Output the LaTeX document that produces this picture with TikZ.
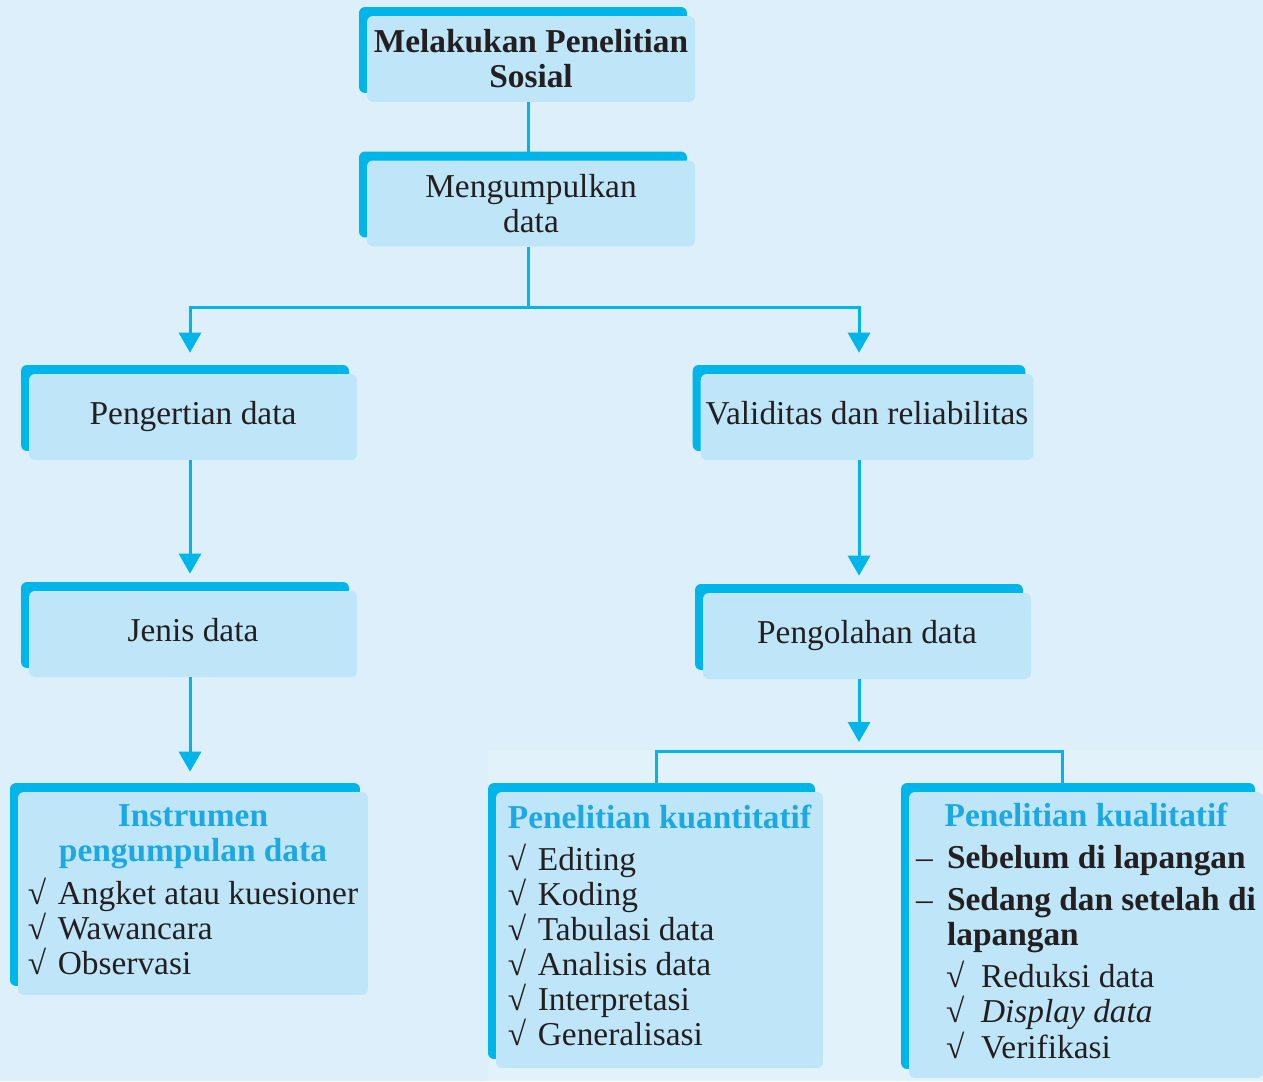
\documentclass[tikz,border=0pt]{standalone}
\usepackage{fontspec}
\setmainfont{Liberation Serif}
\usepackage{xcolor}
\usetikzlibrary{arrows.meta,shadows,positioning}

\definecolor{pagebg}{HTML}{DCEFFA}
\definecolor{grainbg}{HTML}{E2F2FB}
\definecolor{boxfill}{HTML}{BEE6F8}
\definecolor{tabcyan}{HTML}{00B5EA}
\definecolor{headcyan}{HTML}{1CA8E2}
\definecolor{inktext}{HTML}{231F20}

\newcommand{\ticked}{\makebox[0.6cm][l]{\smash{√}}}
\newcommand{\subticked}{\hspace{0.6cm}\makebox[0.7cm][l]{\smash{√}}}
\newcommand{\boxhead}[1]{\textcolor{headcyan}{\bfseries #1}}

\tikzset{
  box/.style={fill=boxfill, rounded corners=0.12cm, text=inktext,
    minimum width=6.56cm, minimum height=1.72cm, inner sep=0.1cm,
    align=center, font=\fontsize{19}{20}\selectfont,
    general shadow={fill=tabcyan, shadow xshift=-0.16cm, shadow yshift=0.18cm}},
  link/.style={draw=tabcyan, line width=0.06cm},
  arrow/.style={link, -{Triangle[width=0.44cm,length=0.4cm]}}
}

\begin{document}
\begin{tikzpicture}[x=0.02cm, y=-0.02cm]
        \fill [pagebg] (0,0) rectangle (1263,1081);
        \fill [grainbg] (488,750) rectangle (1263,1081);
        \useasboundingbox (0,0) rectangle (1263,1081);
        % upper chain
        \node [box, font=\fontsize{19}{20}\selectfont\bfseries] (research) at (531,59) {Melakukan Penelitian\\Sosial};
        \node [box] (collect) at (531,203.5) {Mengumpulkan\\data};
        \node [box] (meaning) at (193,417) {\strut Pengertian data};
        \node [box] (validity) at (867,417) {\strut Validitas dan reliabilitas};
        \node [box] (kinds) at (193,634) {\strut Jenis data};
        \node [box] (process) at (867,636) {\strut Pengolahan data};
        % lower boxes with lists
        \node [box, minimum width=7cm, minimum height=4.06cm] (tools) at (193,893.5) {%
          \begin{tabular}{@{}l@{}}
          \multicolumn{1}{@{}c@{}}{\boxhead{Instrumen}}\\
          \multicolumn{1}{@{}c@{}}{\boxhead{pengumpulan data}}\\[4pt]
          \ticked Angket atau kuesioner\\
          \ticked Wawancara\\
          \ticked Observasi
          \end{tabular}};
        \node [box, minimum width=6.54cm, minimum height=5.52cm] (quant) at (659.5,930) {%
          \begin{tabular}{@{}l@{}}
          \multicolumn{1}{@{}c@{}}{\boxhead{Penelitian kuantitatif}}\\[4pt]
          \ticked Editing\\
          \ticked Koding\\
          \ticked Tabulasi data\\
          \ticked Analisis data\\
          \ticked Interpretasi\\
          \ticked Generalisasi
          \end{tabular}};
        \node [box, minimum width=7.08cm, minimum height=5.72cm] (qual) at (1086,935) {%
          \begin{tabular}{@{}l@{}}
          \multicolumn{1}{@{}c@{}}{\boxhead{Penelitian kualitatif}}\\[4pt]
          \makebox[0.62cm][l]{--}\textbf{Sebelum di lapangan}\\[4pt]
          \makebox[0.62cm][l]{--}\textbf{Sedang dan setelah di}\\
          \hspace{0.62cm}\textbf{lapangan}\\[4pt]
          \subticked Reduksi data\\
          \subticked \textit{Display data}\\
          \subticked Verifikasi
          \end{tabular}};
        % connectors
        \coordinate (fork) at (528,307);
        \coordinate (leftcol) at (190,0);
        \coordinate (rightcol) at (859,0);
        \coordinate (merge) at (859,751);
        \coordinate (quantdrop) at (656,751);
        \coordinate (qualdrop) at (1062,751);
        \draw [link] (research.south -| fork) -- (collect.north -| fork);
        \draw [arrow, shorten >=0.42cm] (collect.south -| fork) -- (fork) -| (meaning.north -| leftcol);
        \draw [arrow, shorten >=0.42cm] (fork) -| (validity.north -| rightcol);
        \draw [arrow, shorten >=0.34cm] (meaning.south -| leftcol) -- (kinds.north -| leftcol);
        \draw [arrow, shorten >=0.4cm] (kinds.south -| leftcol) -- (tools.north -| leftcol);
        \draw [arrow, shorten >=0.34cm] (validity.south -| rightcol) -- (process.north -| rightcol);
        \draw [arrow, shorten >=0.18cm] (process.south -| rightcol) -- (merge);
        \draw [link] (quant.north -| quantdrop) -- (quantdrop) -- (qualdrop) -- (qual.north -| qualdrop);
\end{tikzpicture}
\end{document}
